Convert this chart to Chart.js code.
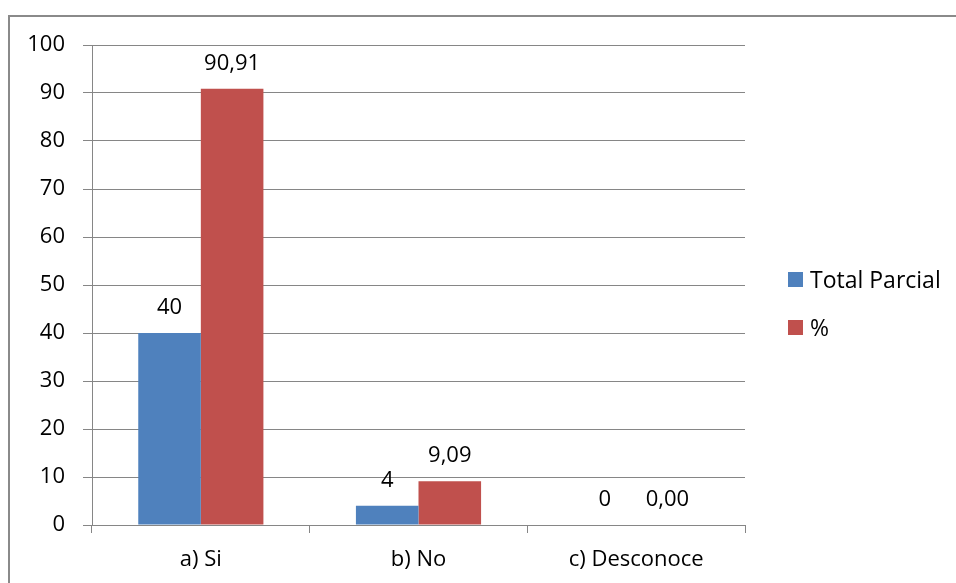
<!DOCTYPE html>
<html>
<head>
<meta charset="utf-8">
<script src="https://cdn.jsdelivr.net/npm/chart.js@4.4.0/dist/chart.umd.min.js"></script>
<style>
html, body { margin: 0; padding: 0; background: #fff; }
#wrap { width: 956px; height: 583px; }
</style>
</head>
<body>
<div id="wrap"><canvas id="grafico" width="956" height="583"></canvas></div>
<script>
// datos del gráfico
const categorias = ['a) Si', 'b) No', 'c) Desconoce'];
const series = ['Total Parcial', '%'];
const totalParcial = [40, 4, 0];
const porcentaje = [90.91, 9.09, 0.00];

const AZUL = '#4F81BD';
const ROJO = '#C0504D';
const GRIS = '#868686';
const FUENTE = '"Open Sans"';
const TAM = 22;

// marco exterior (solo arriba e izquierda, como en la imagen recortada)
const marco = {
    id: 'marco',
    beforeDraw(chart) {
        const ctx = chart.ctx;
        ctx.save();
        ctx.strokeStyle = '#8a8a8a';
        ctx.lineWidth = 2;
        ctx.beginPath();
        ctx.moveTo(9, chart.height);
        ctx.lineTo(9, 16);
        ctx.lineTo(chart.width, 16);
        ctx.stroke();
        ctx.restore();
    }
};

// etiquetas de valor encima de cada barra
const etiquetas = {
    id: 'etiquetas',
    afterDatasetsDraw(chart) {
        const ctx = chart.ctx;
        ctx.save();
        ctx.font = TAM + 'px ' + FUENTE;
        ctx.fillStyle = '#000';
        ctx.textAlign = 'center';
        ctx.textBaseline = 'alphabetic';
        chart.data.datasets.forEach((ds, i) => {
            chart.getDatasetMeta(i).data.forEach((bar, j) => {
                const v = ds.data[j];
                const txt = i === 0 ? String(v) : v.toFixed(2).replace('.', ',');
                ctx.fillText(txt, bar.x, bar.y - 19);
            });
        });
        ctx.restore();
    }
};

// leyenda a la derecha, dibujada a mano
const leyenda = {
    id: 'leyenda',
    afterDraw(chart) {
        const ctx = chart.ctx;
        const area = chart.chartArea;
        const x = area.right + 43;
        let y = 272;
        ctx.save();
        ctx.font = (TAM + 1) + 'px ' + FUENTE;
        ctx.textBaseline = 'middle';
        ctx.textAlign = 'left';
        chart.data.datasets.forEach(ds => {
            ctx.fillStyle = ds.backgroundColor;
            ctx.fillRect(x, y, 15, 15);
            ctx.fillStyle = '#000';
            ctx.fillText(ds.label, x + 22, y + 9);
            y += 48;
        });
        ctx.restore();
    }
};

new Chart(document.getElementById('grafico'), {
    type: 'bar',
    data: {
        labels: categorias,
        datasets: [
            { label: series[0], data: totalParcial, backgroundColor: AZUL, borderWidth: 0 },
            { label: series[1], data: porcentaje, backgroundColor: ROJO, borderWidth: 0 }
        ]
    },
    options: {
        responsive: false,
        animation: false,
        datasets: { bar: { categoryPercentage: 0.575, barPercentage: 1.0 } },
        layout: { padding: { left: 10, top: 45, right: 211, bottom: 0 } },
        plugins: {
            legend: { display: false },
            tooltip: { enabled: false }
        },
        scales: {
            x: {
                grid: { display: true, drawOnChartArea: false, drawTicks: true, tickLength: 8, color: GRIS, offset: true },
                border: { color: GRIS, width: 1 },
                ticks: { color: '#000', font: { family: FUENTE, size: TAM }, padding: 14 },
                afterFit(scale) { scale.height = 58; }
            },
            y: {
                min: 0,
                max: 100,
                ticks: { stepSize: 10, color: '#000', font: { family: FUENTE, size: TAM }, padding: 18 },
                grid: { color: GRIS, tickLength: 9 },
                border: { color: GRIS, width: 1 },
                afterFit(scale) { scale.width = 82; }
            }
        }
    },
    plugins: [marco, etiquetas, leyenda]
});
</script>
</body>
</html>
